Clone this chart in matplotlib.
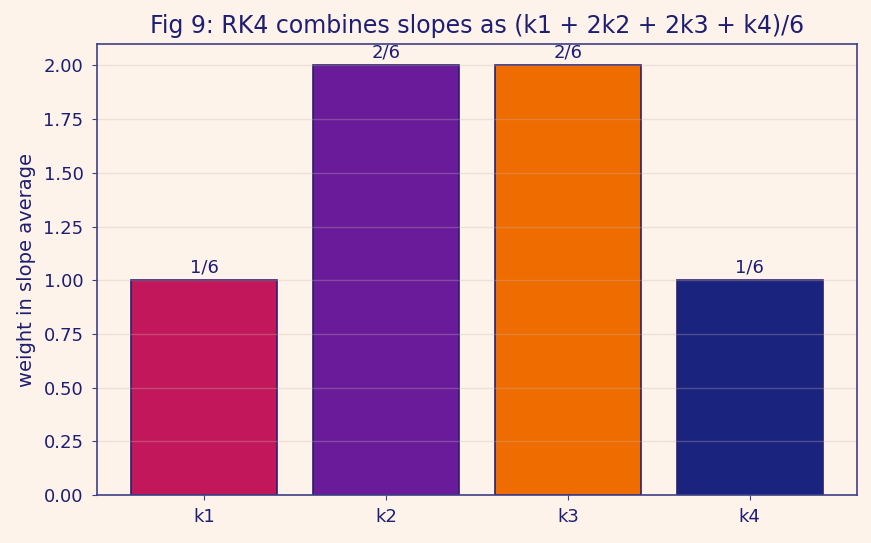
import matplotlib
matplotlib.use("Agg")

import matplotlib.pyplot as plt

# ── data ──────────────────────────────────────────────────────────────────────
STAGES  = ["k1", "k2", "k3", "k4"]
WEIGHTS = [1, 2, 2, 1]
LABELS  = ["1/6", "2/6", "2/6", "1/6"]

BG     = "#FEF3EA"
NAVY   = "#1E1E72"
SPINE  = "#3F3F88"
COLORS = ["#C2185B", "#6A1B9A", "#EF6C00", "#1A237E"]

fig, ax = plt.subplots(figsize=(8.71, 5.43), dpi=100, facecolor=BG)
ax.set_facecolor(BG)

bars = ax.bar(STAGES, WEIGHTS, width=0.8, color=COLORS,
              edgecolor="#2A1F6E", linewidth=1.2)

for bar, lab in zip(bars, LABELS):
    ax.annotate(lab, (bar.get_x() + bar.get_width() / 2, bar.get_height()),
                xytext=(0, 3), textcoords="offset points",
                ha="center", va="bottom", fontsize=13, color=NAVY)

ax.yaxis.grid(True, color="#C9B6AE", alpha=0.3, linewidth=1)
ax.set_ylabel("weight in slope average", fontsize=14, color=NAVY, labelpad=5)
ax.set_title("Fig 9: RK4 combines slopes as (k1 + 2k2 + 2k3 + k4)/6",
             fontsize=17, color=NAVY, pad=8)

ax.tick_params(colors=SPINE, labelcolor=NAVY, labelsize=13, pad=6)
for s in ax.spines.values():
    s.set_color(SPINE)
    s.set_linewidth(1.2)

fig.subplots_adjust(left=0.111, right=0.984, top=0.919, bottom=0.088)
fig.savefig("out.png", dpi=100, facecolor=BG)
